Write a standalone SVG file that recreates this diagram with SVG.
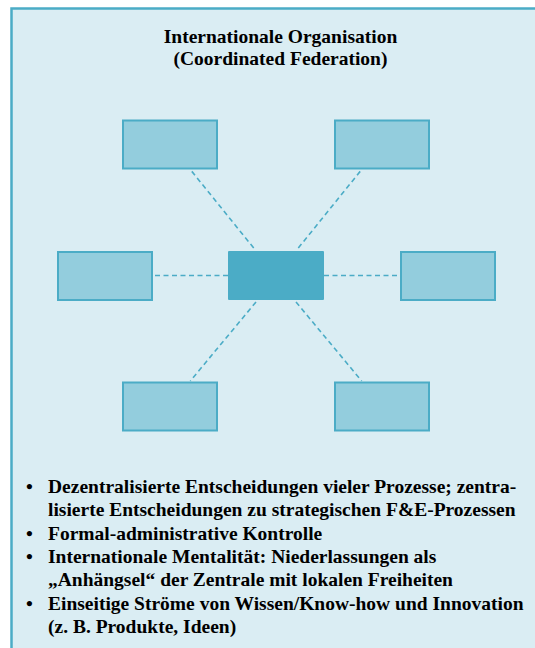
<svg xmlns="http://www.w3.org/2000/svg" width="535" height="648" viewBox="0 0 535 648">
  <style>
    .frame { fill: #daedf3; stroke: #4bacc6; stroke-width: 2.5; }
    .sub { fill: #93cddd; stroke: #4bacc6; stroke-width: 2; }
    .hub { fill: #4bacc6; }
    .link { stroke: #4bacc6; stroke-width: 1.6; stroke-dasharray: 5 3.5; fill: none; }
    .t { font-family: "Liberation Serif", "Times New Roman", serif; font-weight: bold; font-size: 19.5px; fill: #000; }
  </style>

  <!-- panel background -->
  <rect class="frame" x="11.5" y="8.5" width="600" height="700"/>

  <!-- heading -->
  <g id="title">
    <text class="t" x="280.5" y="43" text-anchor="middle">Internationale Organisation</text>
    <text class="t" x="280.5" y="65" text-anchor="middle">(Coordinated Federation)</text>
  </g>

  <!-- dashed links from the headquarters to each subsidiary -->
  <g id="connectors">
    <line class="link" x1="253.7" y1="248" x2="191.5" y2="171"/>
    <line class="link" x1="298.3" y1="248" x2="360.5" y2="171"/>
    <line class="link" x1="228" y1="275.5" x2="152" y2="275.5"/>
    <line class="link" x1="324" y1="275.5" x2="401" y2="275.5"/>
    <line class="link" x1="256" y1="302" x2="190.3" y2="381"/>
    <line class="link" x1="296" y1="302" x2="361.7" y2="381"/>
  </g>

  <!-- headquarters -->
  <g id="hub">
    <rect class="hub" x="228" y="251" width="96" height="49" rx="1"/>
  </g>

  <!-- subsidiaries -->
  <g id="sub-top-left"><rect class="sub" x="123" y="120.5" width="94" height="48"/></g>
  <g id="sub-top-right"><rect class="sub" x="335" y="120.5" width="94" height="48"/></g>
  <g id="sub-left"><rect class="sub" x="58" y="252" width="94" height="48"/></g>
  <g id="sub-right"><rect class="sub" x="401" y="252" width="94" height="48"/></g>
  <g id="sub-bottom-left"><rect class="sub" x="123" y="382.5" width="94" height="48"/></g>
  <g id="sub-bottom-right"><rect class="sub" x="335" y="382.5" width="94" height="48"/></g>

  <!-- characteristics list -->
  <g id="bullets">
    <text class="t" x="26" y="493">•</text>
    <text class="t" x="48" y="493">Dezentralisierte Entscheidungen vieler Prozesse; zentra-</text>
    <text class="t" x="48" y="516">lisierte Entscheidungen zu strategischen F&amp;E-Prozessen</text>
    <text class="t" x="26" y="539.5">•</text>
    <text class="t" x="48" y="539.5">Formal-administrative Kontrolle</text>
    <text class="t" x="26" y="563">•</text>
    <text class="t" x="48" y="563">Internationale Mentalität: Niederlassungen als</text>
    <text class="t" x="48" y="586">„Anhängsel“ der Zentrale mit lokalen Freiheiten</text>
    <text class="t" x="26" y="609.5">•</text>
    <text class="t" x="48" y="609.5">Einseitige Ströme von Wissen/Know-how und Innovation</text>
    <text class="t" x="48" y="633">(z. B. Produkte, Ideen)</text>
  </g>
</svg>
